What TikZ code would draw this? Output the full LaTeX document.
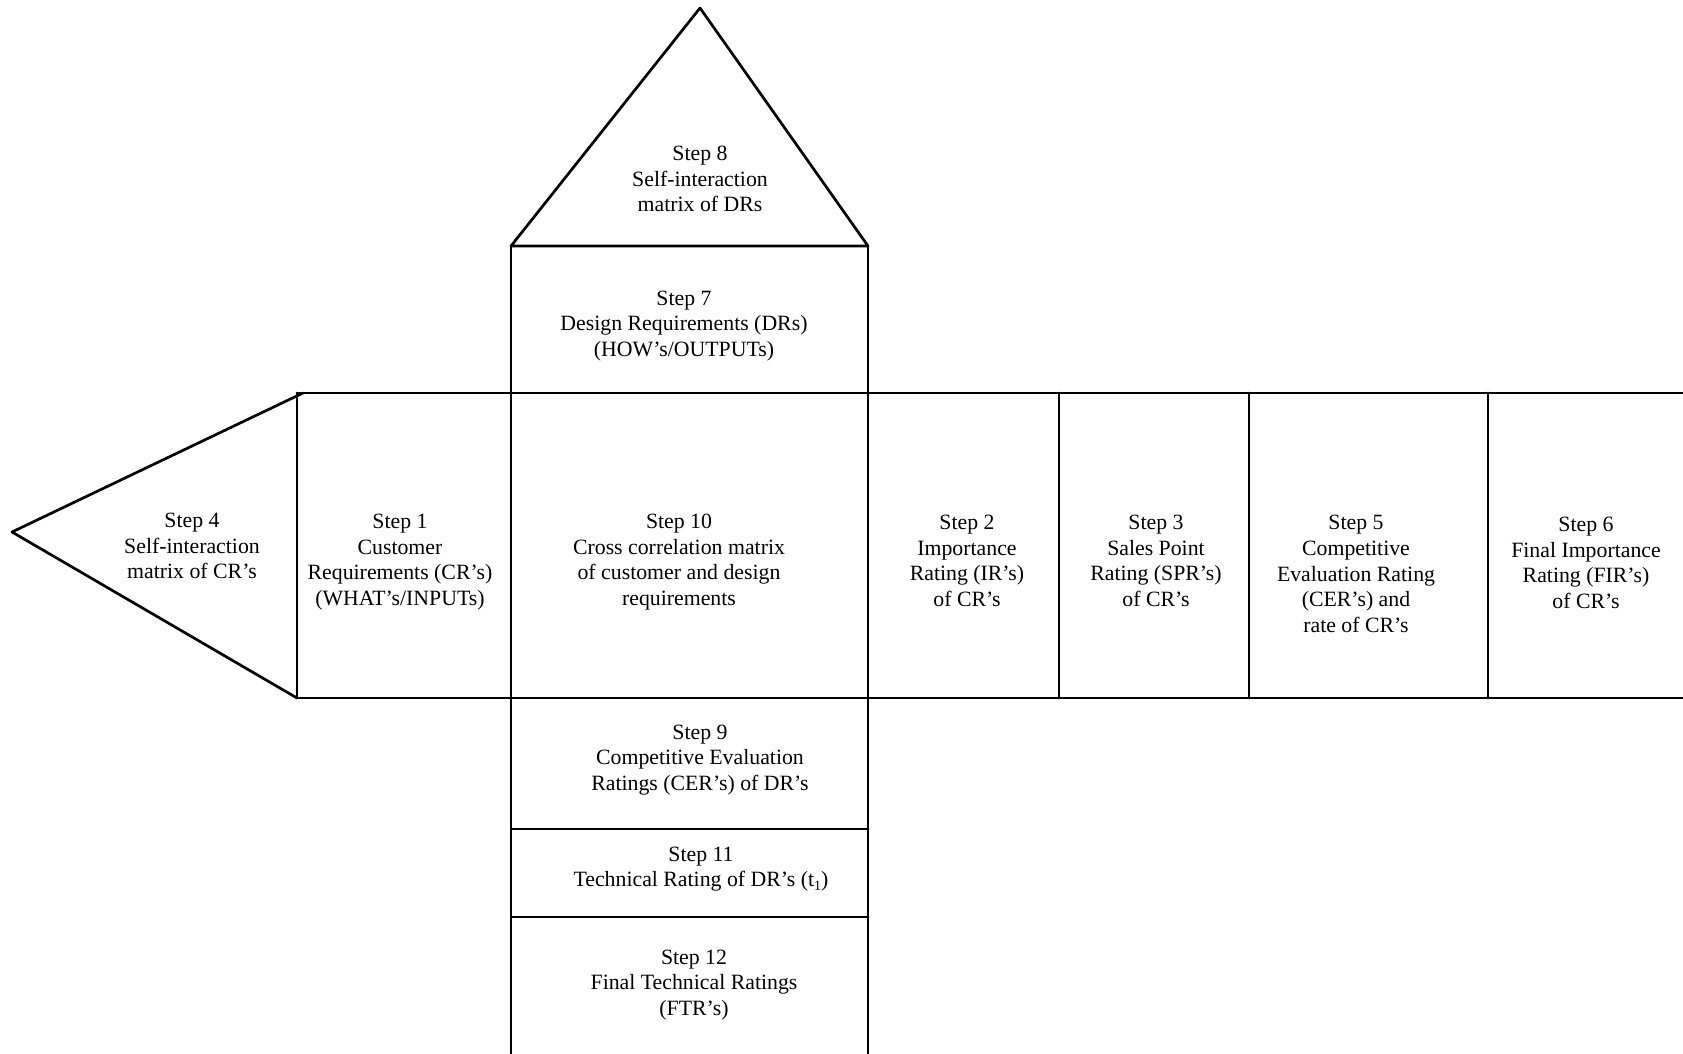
\documentclass[tikz,border=0pt]{standalone}
\usepackage{fontspec}
\setmainfont{Liberation Serif}
\begin{document}
\begin{tikzpicture}[x=0.5pt,y=-0.5pt,
  line/.style={line width=1.35pt,line cap=round,line join=round},
  lbl/.style={align=center,font=\fontsize{10.9}{12.8}\selectfont,inner sep=0pt}]
\useasboundingbox (0,0) rectangle (1683,1054);
% roof triangle
\draw[line] (511,246) -- (700,8) -- (868,246) -- cycle;
% left triangle
\draw[line] (303,393) -- (12,532) -- (297,698);
% main band
\draw[line] (297,393) -- (1683,393);
\draw[line] (297,698) -- (1683,698);
\draw[line] (297,393) -- (297,698);
% central column
\draw[line] (511,246) -- (511,1054);
\draw[line] (868,246) -- (868,1054);
\draw[line] (511,829) -- (868,829);
\draw[line] (511,917) -- (868,917);
% right columns
\draw[line] (1059,393) -- (1059,698);
\draw[line] (1249,393) -- (1249,698);
\draw[line] (1488,393) -- (1488,698);
% texts
\node[lbl] (s8) at (700,179) {Step 8\\Self-interaction\\matrix of DRs};
\node[lbl] (s7) at (684,326) {Step 7\\Design Requirements (DRs)\\(HOW’s/OUTPUTs)};
\node[lbl] (s4) at (192,546) {Step 4\\Self-interaction\\matrix of CR’s};
\node[lbl] (s1) at (400,562) {Step 1\\Customer\\Requirements (CR’s)\\(WHAT’s/INPUTs)};
\node[lbl] (s10) at (679,562) {Step 10\\Cross correlation matrix\\of customer and design\\requirements};
\node[lbl] (s2) at (967,561) {Step 2\\Importance\\Rating (IR’s)\\of CR’s};
\node[lbl] (s3) at (1156,561) {Step 3\\Sales Point\\Rating (SPR’s)\\of CR’s};
\node[lbl] (s5) at (1356,574) {Step 5\\Competitive\\Evaluation Rating\\(CER’s) and\\rate of CR’s};
\node[lbl] (s6) at (1586,563) {Step 6\\Final Importance\\Rating (FIR’s)\\of CR’s};
\node[lbl] (s9) at (700,760) {Step 9\\Competitive Evaluation\\Ratings (CER’s) of DR’s};
\node[lbl] (s11) at (701,869) {Step 11\\Technical Rating of DR’s (t\raisebox{-0.35ex}{\scriptsize 1})};
\node[lbl] (s12) at (694,985) {Step 12\\Final Technical Ratings\\(FTR’s)};
\end{tikzpicture}
\end{document}
